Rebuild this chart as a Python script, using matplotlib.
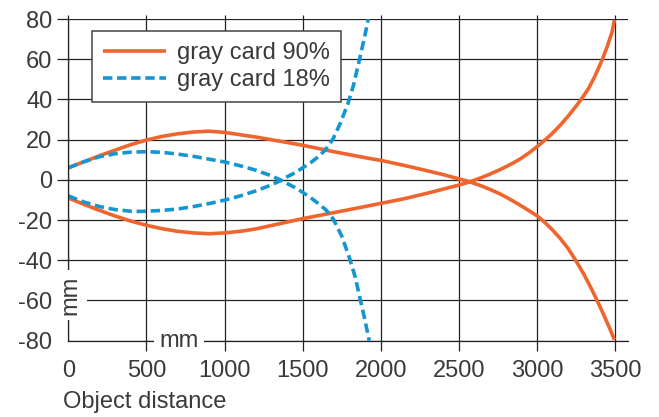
import matplotlib
matplotlib.use("Agg")
import matplotlib.pyplot as plt

# ---- data ----
x_ticks = [0, 500, 1000, 1500, 2000, 2500, 3000, 3500]
y_ticks = [-80, -60, -40, -20, 0, 20, 40, 60, 80]

# gray card 90% - upper branch (rises, then falls to -80)
g90_up_x = [0, 100, 200, 300, 400, 500, 600, 700, 800, 900, 1000, 1120, 1200, 1400,
            1500, 1700, 1930, 2000, 2200, 2400, 2570, 2650, 2700, 2763, 2800, 2850,
            2900, 2950, 3000, 3050, 3100, 3150, 3200, 3243, 3300, 3350, 3381, 3420,
            3460, 3495]
g90_up_y = [6, 9, 12, 14.8, 17.5, 19.8, 21.6, 22.9, 23.8, 24.2, 23.6, 22.2, 21.3, 18.6,
            17.2, 14.0, 10.6, 9.7, 6.3, 2.6, -1.0, -3.2, -4.8, -7.0, -8.5, -10.7,
            -13.0, -15.4, -17.9, -21.2, -25.0, -29.3, -34.3, -39.5, -47, -54.5, -59.5,
            -66, -73, -79.5]
# gray card 90% - lower branch (dips, then rises to +80)
g90_lo_x = [0, 100, 200, 300, 400, 500, 600, 700, 800, 900, 1000, 1120, 1200, 1400,
            1500, 1700, 1930, 2155, 2300, 2500, 2570, 2650, 2700, 2763, 2800, 2850,
            2900, 2950, 3000, 3061, 3100, 3150, 3200, 3250, 3285, 3330, 3370, 3413,
            3450, 3480, 3495]
g90_lo_y = [-9, -12.2, -15.2, -18, -20.5, -22.6, -24.3, -25.6, -26.4, -26.8, -26.4, -25.4,
            -24.4, -21.0, -19.3, -16.3, -12.8, -9.3, -6.6, -2.6, -1.0, 1.3, 2.9, 5.1,
            6.5, 8.5, 10.8, 13.5, 16.5, 20.5, 23.3, 27.3, 31.8, 36.7, 40.3, 45.5, 51.5,
            59, 66.5, 73.5, 79.5]
# gray card 18% - upper branch (peaks, then falls to -80)
g18_up_x = [0, 100, 200, 300, 400, 500, 600, 700, 800, 900, 1000, 1100, 1200, 1300,
            1355, 1400, 1450, 1500, 1550, 1600, 1650, 1696, 1750, 1800, 1835, 1867,
            1895, 1926]
g18_up_y = [6, 9, 11.5, 13, 13.8, 14, 13.7, 12.8, 11.7, 10.3, 8.9, 7, 4.8, 2,
            0, -1.8, -3.8, -6.2, -8.8, -11.8, -15, -19.5, -28, -39, -48, -59,
            -68.5, -80]
# gray card 18% - lower branch (dips, then rises to +80)
g18_lo_x = [0, 100, 200, 300, 400, 450, 500, 600, 700, 800, 900, 1000, 1100, 1200,
            1300, 1355, 1400, 1450, 1500, 1550, 1600, 1643, 1692, 1740, 1790, 1825,
            1855, 1880, 1900, 1920]
g18_lo_y = [-8, -11, -13.3, -14.8, -15.6, -15.7, -15.6, -15.2, -14.5, -13.3, -11.8, -10.1,
            -8, -5.5, -2.5, -0.5, 1.5, 3.5, 6, 8.5, 11.5, 14.7, 20, 28, 38, 47,
            57, 65.5, 72.5, 80]

labels = ["gray card 90%", "gray card 18%"]
x_label = "Object distance"
unit = "mm"

# ---- style ----
orange = "#F0642D"
blue = "#1496D2"
ink = "#222222"
txt = "#3a3a3a"
fs = 17
plt.rcParams["font.family"] = ["Liberation Sans", "DejaVu Sans"]

W, H = 659, 417
fig = plt.figure(figsize=(W / 100, H / 100), dpi=100)
L, R, T, B = 68.3, 628.0, 19.0, 340.7
ax = fig.add_axes([L / W, (H - B) / H, (R - L) / W, (B - T) / H])

l1, = ax.plot(g90_up_x, g90_up_y, color=orange, lw=2.6, solid_capstyle="butt",
              solid_joinstyle="round", zorder=2)
ax.plot(g90_lo_x, g90_lo_y, color=orange, lw=2.6, solid_capstyle="butt",
        solid_joinstyle="round", zorder=2)
l2, = ax.plot(g18_up_x, g18_up_y, color=blue, lw=2.6, dashes=(2.6, 1.3),
              dash_capstyle="butt", zorder=2.1)
ax.plot(g18_lo_x, g18_lo_y, color=blue, lw=2.6, dashes=(2.6, 1.3),
        dash_capstyle="butt", zorder=2.1)

ax.set_xlim(0, 3582)
ax.set_ylim(-80, 80)
ax.set_xticks(x_ticks)
ax.set_yticks(y_ticks)
ax.set_xticklabels([str(v) for v in x_ticks])
ax.set_yticklabels([str(v) for v in y_ticks])
ax.set_axisbelow(True)
ax.grid(True, color=ink, lw=0.9)

for s in ["top", "right"]:
    ax.spines[s].set_visible(False)
for s in ["left", "bottom"]:
    ax.spines[s].set_color(ink)
    ax.spines[s].set_linewidth(0.9)

ax.tick_params(axis="x", which="major", direction="out", length=7.5, width=0.9,
               color=ink, labelsize=fs, labelcolor=txt, pad=6.5, top=True,
               labeltop=False)
ax.tick_params(axis="y", direction="out", length=8, width=0.9, color=ink,
               labelsize=fs, labelcolor=txt, pad=3.5)
for t in ax.xaxis.get_major_ticks():
    t.tick2line.set_markersize(3)
ax.xaxis.get_major_ticks()[0].tick1line.set_visible(False)
ax.yaxis.get_major_ticks()[0].tick1line.set_visible(False)

leg = ax.legend([l1, l2], labels, loc="upper left",
                bbox_to_anchor=((92 - L) / (R - L), 1 - (31 - T) / (B - T)),
                borderaxespad=0, fancybox=False, framealpha=1, edgecolor="#444444",
                fontsize=fs, handlelength=2.65, handletextpad=0.5, borderpad=0.47,
                labelspacing=0.21, labelcolor=txt)
leg.get_frame().set_linewidth(1.1)

# unit labels sitting on the axis lines with white backgrounds
ax.text((179 - L) / (R - L), -(347 - B) / (B - T), unit, transform=ax.transAxes,
        ha="center", va="baseline", fontsize=fs, color=txt, zorder=3, clip_on=False,
        bbox=dict(boxstyle="square,pad=0.22", fc="white", ec="none"))
ax.text((70.5 - L) / (R - L), 1 - (295 - T) / (B - T), unit, transform=ax.transAxes,
        ha="center", va="center", rotation=90, fontsize=fs, color=txt, zorder=3,
        clip_on=False, bbox=dict(boxstyle="square,pad=0.22", fc="white", ec="none"))

fig.text(63 / W, 1 - 402 / H, x_label, ha="left", va="center", fontsize=fs, color=txt)

fig.savefig("out.png", dpi=100)
